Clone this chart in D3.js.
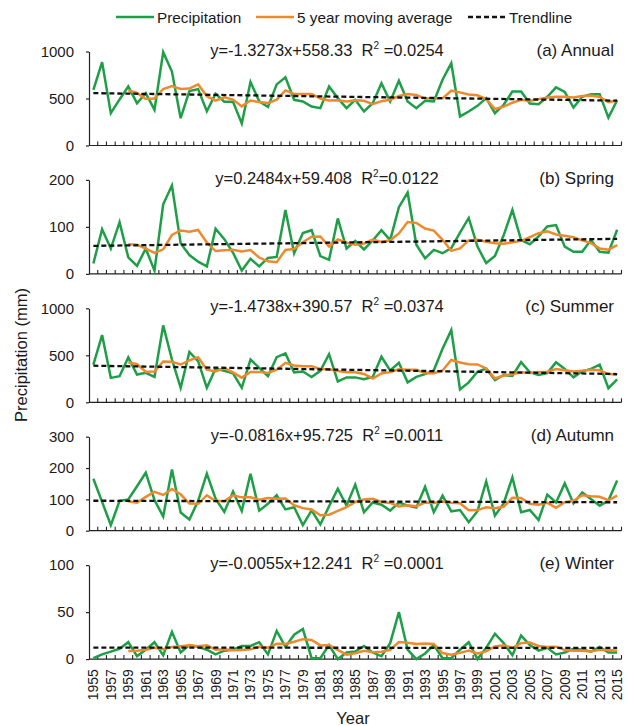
<!DOCTYPE html>
<html>
<head>
<meta charset="utf-8">
<script src="https://cdn.jsdelivr.net/npm/d3@7"></script>
<style>
  body { margin: 0; background: #fff; }
  svg { font-family: "Liberation Sans", Arial, sans-serif; }
</style>
</head>
<body>
<svg id="chart" width="628" height="726"></svg>
<script>
const years = d3.range(1955, 2016);

const annual = [592, 887, 344, 490, 628, 450, 557, 379, 993, 787,
  291, 580, 600, 365, 550, 465, 465, 235, 675, 470,
  410, 650, 725, 486, 468, 415, 397, 628, 504, 397,
  486, 362, 450, 663, 468, 688, 468, 397, 475, 468,
  699, 876, 309, 362, 422, 504, 344, 433, 574, 574,
  446, 440, 518, 618, 571, 404, 518, 546, 546, 296, 482];

const spring = [22, 95, 54, 110, 35, 17, 54, 7, 148, 188,
  65, 40, 26, 16, 96, 74, 45, 7, 32, 16,
  34, 36, 136, 44, 87, 93, 38, 30, 118, 54,
  70, 52, 71, 93, 72, 142, 173, 62, 33, 51,
  44, 55, 88, 119, 58, 23, 38, 82, 136, 72,
  63, 80, 101, 104, 58, 47, 47, 72, 47, 45, 94];

const summer = [400, 715, 260, 278, 478, 295, 313, 270, 818, 455,
  154, 535, 438, 154, 360, 335, 308, 154, 455, 366,
  278, 480, 520, 318, 328, 268, 335, 512, 222, 265,
  265, 245, 270, 485, 340, 420, 212, 270, 300, 340,
  570, 768, 137, 212, 325, 360, 235, 290, 280, 428,
  320, 290, 310, 425, 355, 265, 330, 355, 400, 150, 245];

const autumn = [166, 92, 18, 95, 100, 142, 185, 98, 45, 195,
  58, 36, 95, 182, 102, 60, 125, 63, 182, 64,
  86, 113, 68, 75, 18, 65, 20, 78, 134, 80,
  147, 59, 90, 83, 64, 90, 80, 74, 140, 59,
  112, 62, 66, 27, 62, 157, 48, 87, 170, 59,
  66, 34, 115, 90, 151, 87, 122, 101, 80, 96, 160];

const winter = [1, 5, 8, 11, 18, 3, 10, 18, 4, 29,
  7, 15, 13, 10, 5, 9, 10, 14, 14, 18,
  5, 30, 13, 26, 32, 1, 1, 15, 0, 7,
  8, 14, 7, 3, 17, 50, 10, 0, 6, 15,
  1, 1, 10, 18, 0, 12, 27, 17, 4, 25,
  15, 9, 12, 5, 7, 11, 10, 8, 13, 7, 7];

const series = [annual, spring, summer, autumn, winter];
const panelLabels = ['(a) Annual', '(b) Spring', '(c) Summer', '(d) Autumn', '(e) Winter'];
const equations = ['y=-1.3273x+558.33', 'y=0.2484x+59.408', 'y=-1.4738x+390.57', 'y=-0.0816x+95.725', 'y=-0.0055x+12.241'];
const r2Values = [' =0.0254', '=0.0122', ' =0.0374', ' =0.0011', ' =0.0001'];
const slopes = [-1.3273, 0.2484, -1.4738, -0.0816, -0.0055];
const intercepts = [558.33, 59.408, 390.57, 95.725, 12.241];
const yMax = [1000, 200, 1000, 300, 100];
const yTicks = [[0, 500, 1000], [0, 100, 200], [0, 500, 1000], [0, 100, 200, 300], [0, 50, 100]];
const yearLabels = years.filter((d, i) => i % 2 === 0);

const GREEN = '#1f9e48';
const ORANGE = '#ee8a2e';

const svg = d3.select('#chart');

const x = d3.scaleBand().domain(years).range([89, 621.5]).padding(0);
const xc = d => x(d) + x.bandwidth() / 2;

// trailing 5 year mean, first value at the 5th year
function movingAverage(values, n) {
  return values.map((v, i) => i < n - 1 ? null : d3.mean(values.slice(i - n + 1, i + 1)));
}

series.forEach((values, p) => {
  const top = 51.5 + 128.4 * p;
  const bottom = top + 94;
  const y = d3.scaleLinear().domain([0, yMax[p]]).range([bottom, top]);
  const g = svg.append('g');

  const yAxis = g.append('g')
    .attr('transform', 'translate(89,0)')
    .call(d3.axisLeft(y).tickValues(yTicks[p]).tickFormat(d3.format('d'))
      .tickSize(3).tickSizeOuter(0).tickPadding(12));
  yAxis.select('.domain').attr('stroke', '#222').attr('stroke-width', 1.2);
  yAxis.selectAll('.tick line').attr('stroke', '#222').attr('stroke-width', 1.2);
  yAxis.selectAll('.tick text')
    .attr('font-family', '"Liberation Sans", Arial, sans-serif')
    .attr('font-size', 15).attr('fill', '#1a1a1a');

  g.append('line')
    .attr('x1', 89).attr('x2', 621.5)
    .attr('y1', bottom).attr('y2', bottom)
    .attr('stroke', '#222').attr('stroke-width', 1.2);

  g.selectAll('line.xtick')
    .data(years.slice(1).concat([null]))
    .join('line')
    .attr('class', 'xtick')
    .attr('x1', d => d === null ? x.range()[1] : x(d))
    .attr('x2', d => d === null ? x.range()[1] : x(d))
    .attr('y1', bottom).attr('y2', bottom - 4)
    .attr('stroke', '#222').attr('stroke-width', 1.1);

  const line = d3.line()
    .defined(d => d[1] !== null)
    .x(d => xc(d[0]))
    .y(d => y(d[1]));

  g.append('path')
    .datum(years.map((yr, i) => [yr, values[i]]))
    .attr('d', line)
    .attr('fill', 'none')
    .attr('stroke', GREEN)
    .attr('stroke-width', 2.5);

  const avg = movingAverage(values, 5);
  g.append('path')
    .datum(years.map((yr, i) => [yr, avg[i]]))
    .attr('d', line)
    .attr('fill', 'none')
    .attr('stroke', ORANGE)
    .attr('stroke-width', 2.5);

  const n = years.length;
  const trend = [[years[0], slopes[p] * 1 + intercepts[p]], [years[n - 1], slopes[p] * n + intercepts[p]]];
  g.append('path')
    .datum(trend)
    .attr('d', line)
    .attr('fill', 'none')
    .attr('stroke', '#111')
    .attr('stroke-width', 2.3)
    .attr('stroke-dasharray', '5,3');

  const eq = g.append('text')
    .attr('x', 327).attr('y', top + 4)
    .attr('text-anchor', 'middle')
    .attr('font-size', 16.5)
    .attr('fill', '#1a1a1a')
    .style('white-space', 'pre');
  eq.append('tspan').text(equations[p] + '  R');
  eq.append('tspan').attr('dy', -7).attr('font-size', 10).text('2');
  eq.append('tspan').attr('dy', 7).text(r2Values[p]);

  g.append('text')
    .attr('x', 614).attr('y', top + 4)
    .attr('text-anchor', 'end')
    .attr('font-size', 17)
    .attr('fill', '#1a1a1a')
    .text(panelLabels[p]);

  if (p === series.length - 1) {
    g.selectAll('text.year')
      .data(yearLabels)
      .join('text')
      .attr('class', 'year')
      .attr('transform', d => `translate(${xc(d)},${bottom + 10}) rotate(-90)`)
      .attr('text-anchor', 'end')
      .attr('dominant-baseline', 'central')
      .attr('font-size', 14)
      .attr('fill', '#1a1a1a')
      .text(d => d);
  }
});

// legend
const legend = svg.append('g').attr('transform', 'translate(0,17)');
const legendItems = [
  { label: 'Precipitation', color: GREEN, dash: null, x: 116 },
  { label: '5 year moving average', color: ORANGE, dash: null, x: 256 },
  { label: 'Trendline', color: '#111', dash: '5,3', x: 468 }
];
legendItems.forEach(item => {
  legend.append('line')
    .attr('x1', item.x).attr('x2', item.x + 38)
    .attr('y1', 0).attr('y2', 0)
    .attr('stroke', item.color)
    .attr('stroke-width', item.dash ? 2.3 : 2.5)
    .attr('stroke-dasharray', item.dash);
  legend.append('text')
    .attr('x', item.x + 41).attr('y', 0)
    .attr('dominant-baseline', 'central')
    .attr('font-size', 15.3)
    .attr('fill', '#1a1a1a')
    .text(item.label);
});

svg.append('text')
  .attr('transform', 'translate(21,355) rotate(-90)')
  .attr('text-anchor', 'middle')
  .attr('dominant-baseline', 'central')
  .attr('font-size', 16.5)
  .attr('fill', '#1a1a1a')
  .text('Precipitation (mm)');

svg.append('text')
  .attr('x', 353).attr('y', 718)
  .attr('text-anchor', 'middle')
  .attr('dominant-baseline', 'central')
  .attr('font-size', 16.5)
  .attr('fill', '#1a1a1a')
  .text('Year');
</script>
</body>
</html>
